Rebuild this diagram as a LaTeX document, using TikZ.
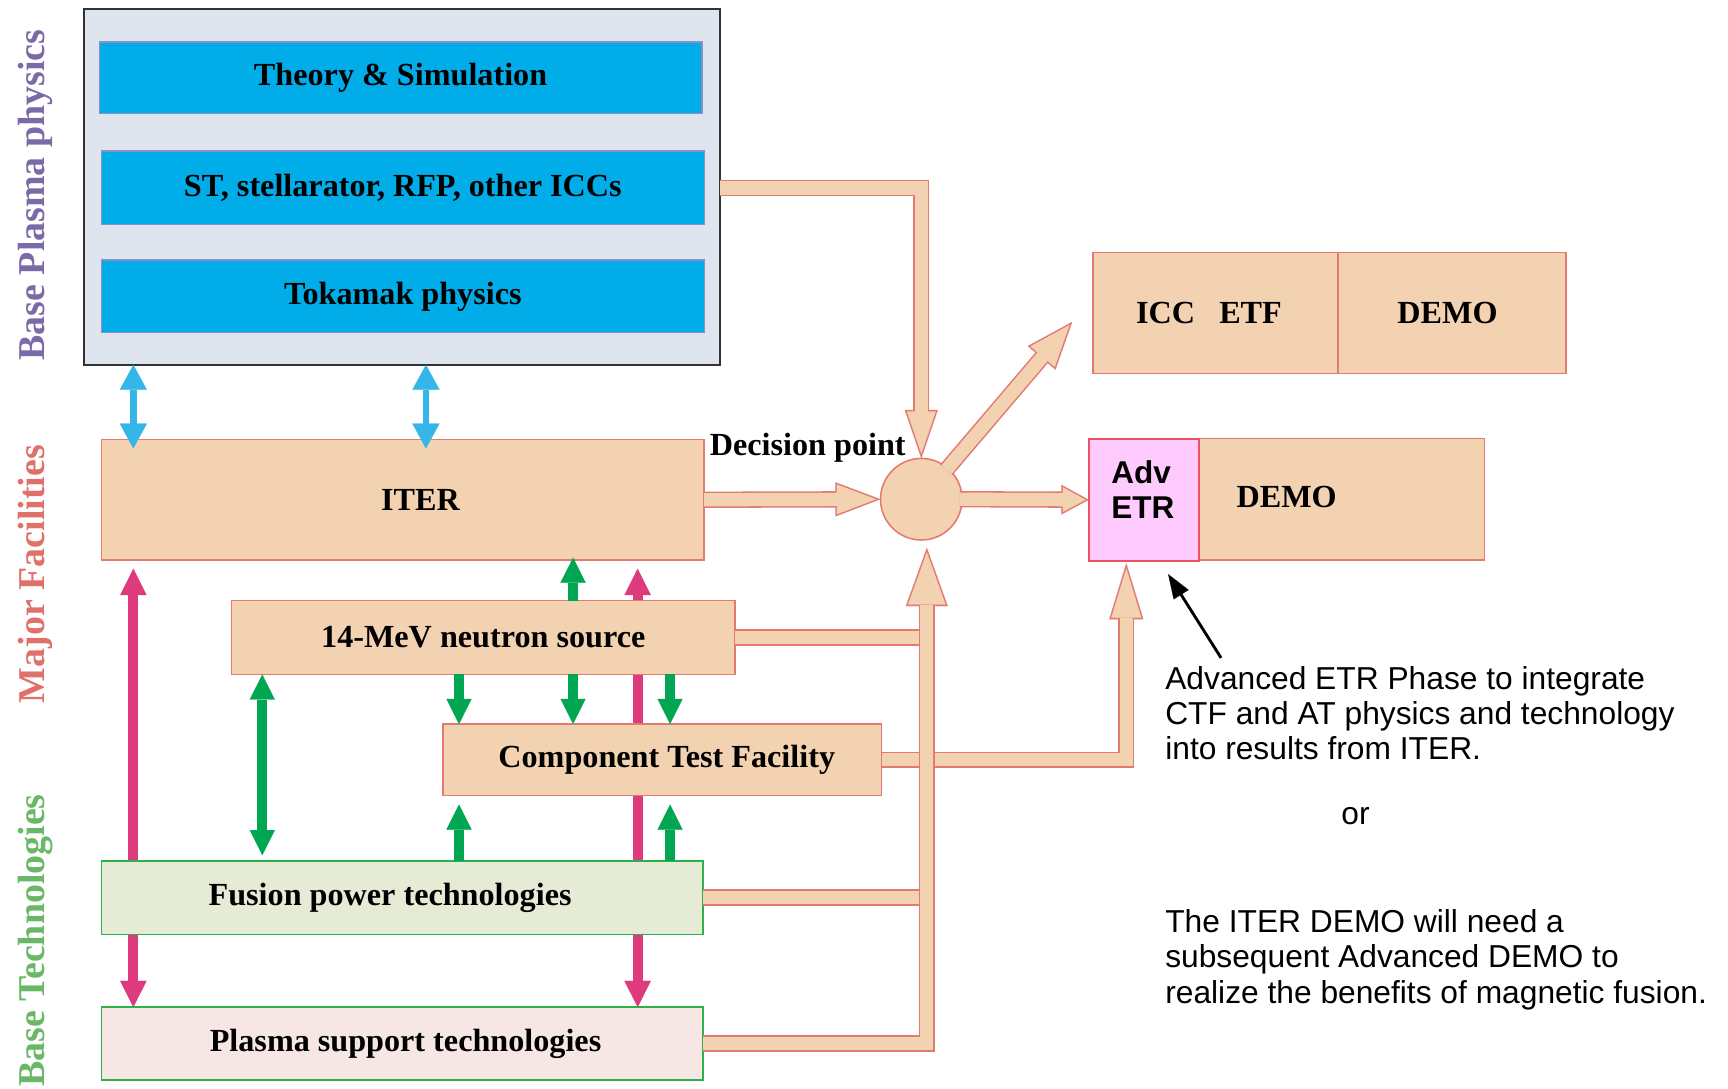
\documentclass[tikz,border=0pt]{standalone}
\usepackage{fontspec}
\setmainfont{Liberation Serif}
\newfontfamily\arialf{Liberation Sans}
\usetikzlibrary{arrows.meta,calc}
\pgfdeclarelayer{bg}
\pgfsetlayers{bg,main}

\definecolor{pk}{HTML}{F2D2B1}
\definecolor{pkb}{HTML}{E37A72}
\definecolor{bppfill}{HTML}{DEE5EF}
\definecolor{bppline}{HTML}{333333}
\definecolor{cyanb}{HTML}{00ADE9}
\definecolor{cyanline}{HTML}{8C8FC4}
\definecolor{fptfill}{HTML}{E6EBD5}
\definecolor{pstfill}{HTML}{F7E7E4}
\definecolor{gline}{HTML}{30B04A}
\definecolor{advfill}{HTML}{FFCBFF}
\definecolor{advline}{HTML}{F0505F}
\definecolor{bluea}{HTML}{35B6E9}
\definecolor{mag}{HTML}{DD3B7D}
\definecolor{grn}{HTML}{00A651}
\definecolor{lblpurple}{HTML}{7B6AA8}
\definecolor{lblred}{HTML}{E0706A}
\definecolor{lblgreen}{HTML}{68B868}

\newcommand\boxfont{\fontsize{14.6}{17}\selectfont\bfseries}
\newcommand\fatbd{0.7}
\tikzset{
  fat/.code 2 args={%
    \pgfmathsetmacro\fatL{#1}%
    \pgfmathsetmacro\fatW{#2}%
    \pgfmathsetmacro\fatth{atan((\fatW/2)/\fatL)}%
    \pgfmathsetmacro\fatr{\fatbd/sin(\fatth)}%
    \pgfmathsetmacro\fatLi{\fatL-\fatr-\fatbd}%
    \pgfmathsetmacro\fatWi{2*((\fatW/2)*(\fatL-\fatbd)/\fatL-\fatbd/cos(\fatth))}%
    \edef\fatopts{draw=pkb, line width=7.4pt, -{Triangle[length=\fatL pt, width=\fatW pt, line width=0.1pt]}, postaction={draw=pk, line width=6pt, shorten >=\fatr pt, -{Triangle[length=\fatLi pt, width=\fatWi pt, line width=0.1pt]}}}%
    \expandafter\tikzset\expandafter{\fatopts}%
  },
  band/.style={draw=pkb, line width=7.4pt, postaction={draw=pk, line width=6pt}},
  box/.style={draw=pkb, fill=pk, line width=0.7pt, inner sep=0pt, outer sep=0pt, font=\boxfont},
  cbox/.style={draw=cyanline, fill=cyanb, line width=0.6pt, inner sep=0pt, outer sep=0pt, font=\boxfont},
  gbox/.style={draw=gline, line width=0.8pt, inner sep=0pt, outer sep=0pt, font=\boxfont},
  outerbox/.style={draw=bppline, fill=bppfill, line width=1pt, inner sep=0pt, outer sep=0pt},
  advbox/.style={draw=advline, fill=advfill, line width=1pt, inner sep=0pt, outer sep=0pt},
  advtext/.style={align=left, inner sep=0pt, font=\arialf\fontsize{14.3}{16}\selectfont\bfseries},
  vlabel/.style={rotate=90, anchor=base, inner sep=0pt, font=\fontsize{17.2}{20}\selectfont\bfseries},
  note/.style={align=left, inner sep=0pt, font=\arialf\fontsize{14.4}{16}\selectfont},
  bl/.style={bluea, line width=3pt, {Triangle[length=11.3pt,width=12.3pt,line width=0.1pt]}-{Triangle[length=11.3pt,width=12.3pt,line width=0.1pt]}},
  mg/.style={mag, line width=4.5pt, {Triangle[length=12pt,width=12pt,line width=0.1pt]}-{Triangle[length=12pt,width=12pt,line width=0.1pt]}},
  gd/.style={grn, line width=4.5pt, {Triangle[length=11.4pt,width=11.4pt,line width=0.1pt]}-{Triangle[length=11.4pt,width=11.4pt,line width=0.1pt]}},
  gs/.style={grn, line width=4.5pt, -{Triangle[length=11.4pt,width=11.4pt,line width=0.1pt]}},
}
\newcommand\uu{0.5pt}

\begin{document}
\begin{tikzpicture}[x=0.5pt,y=-0.5pt]
\useasboundingbox (0,0) rectangle (1568,988);

% side labels
\node[vlabel, text=lblpurple] (lbp) at (40,177) {Base Plasma physics};
\node[vlabel, text=lblred] (lmf) at (40,521) {Major Facilities};
\node[vlabel, text=lblgreen] (lbt) at (40,853.5) {Base Technologies};

% base plasma physics group
\node[outerbox, minimum width=577*\uu, minimum height=323*\uu] (bpp) at (364.5,169.5) {};
\node[cbox, minimum width=547*\uu, minimum height=65*\uu] (theory) at (363.5,70.5) {Theory \& Simulation};
\node[cbox, minimum width=547*\uu, minimum height=67*\uu] (st) at (365.5,170.5) {ST, stellarator, RFP, other ICCs};
\node[cbox, minimum width=547*\uu, minimum height=66*\uu] (tok) at (365.5,269) {Tokamak physics};

% facilities
\node[box, minimum width=547*\uu, minimum height=109*\uu] (iter) at (365.5,453.5) {\hspace*{16pt}ITER};
\node[box, circle, minimum size=74*\uu] (dp) at (836,453) {};
\node[font=\boxfont, inner sep=0pt] (dpl) at (733,406) {Decision point};
\node[box, minimum width=222*\uu, minimum height=110*\uu] (iccl) at (1103,284) {\hspace*{-6pt}ICC\hspace{11pt}ETF};
\node[box, minimum width=207*\uu, minimum height=110*\uu] (iccr) at (1317.5,284) {\hspace*{-4pt}DEMO};
\node[box, minimum width=259*\uu, minimum height=110*\uu] (demo) at (1217.5,453) {};
\node[font=\boxfont, inner sep=0pt] (demot) at (1167.5,451) {DEMO};
\node[advbox, minimum width=100*\uu, minimum height=111*\uu] (adv) at (1038,453.5) {};
\node[advtext] (advt) at (1037,444) {Adv\\ETR};
\node[box, minimum width=457*\uu, minimum height=67*\uu] (neu) at (438.5,578.5) {14-MeV neutron source};
\node[box, minimum width=398*\uu, minimum height=65*\uu] (ctf) at (601,689.5) {\hspace*{4pt}Component Test Facility};
\node[gbox, fill=fptfill, minimum width=546*\uu, minimum height=67*\uu] (fpt) at (365,814.5) {\hspace*{-11pt}Fusion power technologies};
\node[gbox, fill=pstfill, minimum width=546*\uu, minimum height=66*\uu] (pst) at (365,947) {\hspace*{3pt}Plasma support technologies};

% notes
\node[note, anchor=north west] (n1) at (1057,604) {Advanced ETR Phase to integrate\\CTF and AT physics and technology\\into results from ITER.};
\node[note, anchor=base] (nor) at (1230,748) {or};
\node[note, anchor=north west] (n2) at (1057,825) {The ITER DEMO will need a\\subsequent Advanced DEMO to\\realize the benefits of magnetic fusion.};

% helper coordinates
\coordinate (xb1) at (121,0);
\coordinate (xb2) at (386.5,0);
\coordinate (xm1) at (121,0);
\coordinate (xm2) at (578.6,0);
\coordinate (xg1) at (238,0);
\coordinate (xg2) at (416.5,0);
\coordinate (xg3) at (520,0);
\coordinate (xg4) at (608,0);
\coordinate (busx) at (841,0);
\coordinate (busin) at (841,497);
\coordinate (advin) at (1022,511);
\coordinate (icctip) at (973,292);
\coordinate (atail) at (1108,597);
\coordinate (ahead) at (1060,521);

% magenta arrows behind boxes
\begin{pgfonlayer}{bg}
\draw[mg, shorten <=4pt] (xm1 |- iter.south) -- (xm1 |- pst.north);
\draw[mg, shorten <=4pt] (xm2 |- iter.south) -- (xm2 |- pst.north);
\end{pgfonlayer}

% blue arrows
\draw[bl, shorten >=-4pt] (xb1 |- bpp.south) -- (xb1 |- iter.north);
\draw[bl, shorten >=-4pt] (xb2 |- bpp.south) -- (xb2 |- iter.north);

% green arrows
\draw[gs, shorten >=-1pt] (xg3 |- neu.north) -- (xg3 |- iter.south);
\draw[gd, shorten >=2.5pt] (xg1 |- neu.south) -- (xg1 |- fpt.north);
\draw[gs] (xg2 |- neu.south) -- (xg2 |- ctf.north);
\draw[gs] (xg3 |- neu.south) -- (xg3 |- ctf.north);
\draw[gs] (xg4 |- neu.south) -- (xg4 |- ctf.north);
\draw[gs, shorten >=4pt] (xg2 |- fpt.north) -- (xg2 |- ctf.south);
\draw[gs, shorten >=4pt] (xg4 |- fpt.north) -- (xg4 |- ctf.south);

% fat arrows
\draw[fat={22}{15}] (bpp.east |- st) -| (dp.north);
\draw[fat={20.5}{15.5}] (iter.east) -- (dp.west);
\draw[fat={12.5}{13.5}, shorten <=-1pt] (dp.east) -- (adv.west);
\draw[fat={21.5}{16.5}, shorten <=-1pt] (dp) -- (icctip);
\draw[band] (neu.east) -- (neu.east -| busx);
\draw[band] (fpt.east) -- (fpt.east -| busx);
\draw[fat={25.5}{15.5}] (ctf.east) -| (advin);
\draw[fat={26.5}{19}] (pst.east) -| (busin);

% annotation pointer
\draw[line width=1.3pt, -{Triangle[length=11pt,width=8pt,line width=0.1pt]}] (atail) -- (ahead);
\end{tikzpicture}
\end{document}
